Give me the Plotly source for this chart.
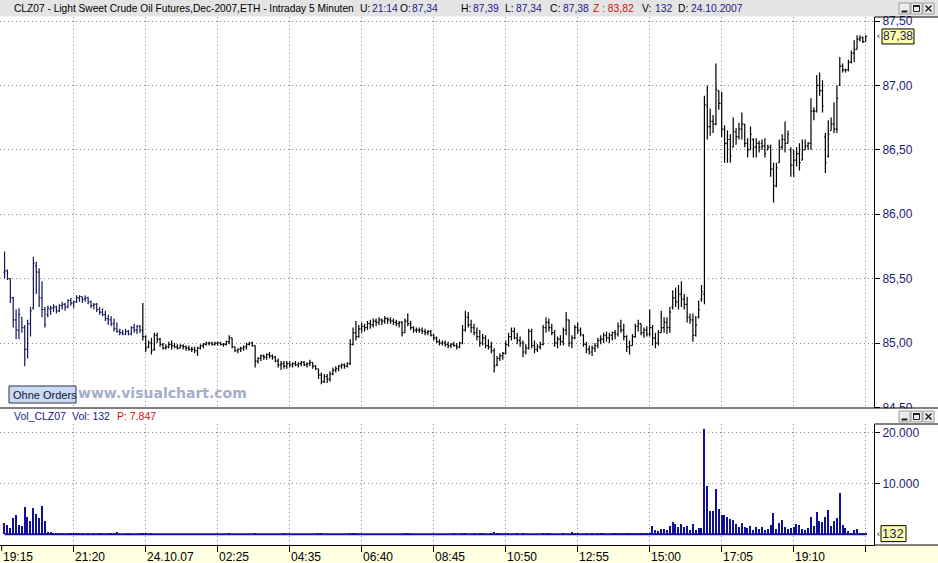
import plotly.graph_objects as go

# ---------------- data (5-minute bars, CLZ07) ----------------
OPEN = [
    85.55, 85.56, 85.50, 85.35, 85.18, 85.10, 85.20, 85.12, 84.95, 85.15,
    85.27, 85.60, 85.55, 85.35, 85.26, 85.22, 85.26, 85.27, 85.28, 85.25,
    85.29, 85.30, 85.28, 85.33, 85.31, 85.32, 85.35, 85.36, 85.34, 85.35,
    85.32, 85.29, 85.30, 85.26, 85.24, 85.22, 85.19, 85.18, 85.15, 85.11,
    85.09, 85.08, 85.07, 85.09, 85.07, 85.12, 85.10, 85.13, 85.10, 85.05,
    84.97, 85.00, 84.95, 85.06, 85.03, 84.99, 84.96, 84.97, 84.99, 84.98,
    84.97, 84.96, 84.98, 84.97, 84.96, 84.95, 84.95, 84.94, 84.96, 84.98,
    84.99, 85.00, 85.00, 84.99, 85.00, 85.00, 84.99, 84.99, 85.01, 85.04,
    84.97, 84.94, 84.95, 84.96, 84.97, 84.99, 85.00, 84.98, 84.86, 84.88,
    84.90, 84.89, 84.91, 84.90, 84.89, 84.86, 84.83, 84.84, 84.82, 84.84,
    84.83, 84.84, 84.83, 84.84, 84.85, 84.83, 84.84, 84.85, 84.82, 84.80,
    84.75, 84.70, 84.74, 84.72, 84.76, 84.79, 84.80, 84.82, 84.83, 84.82,
    84.84, 84.99, 85.08, 85.05, 85.11, 85.13, 85.12, 85.15, 85.14, 85.17,
    85.16, 85.18, 85.17, 85.19, 85.18, 85.17, 85.16, 85.15, 85.16, 85.08,
    85.17, 85.15, 85.12, 85.10, 85.10, 85.10, 85.09, 85.08, 85.09, 85.06,
    85.04, 85.01, 85.00, 85.00, 84.99, 84.98, 84.99, 84.98, 84.97, 85.00,
    85.10, 85.20, 85.14, 85.12, 85.08, 85.05, 85.00, 85.04, 84.98, 84.97,
    84.94, 84.83, 84.88, 84.90, 84.92, 84.99, 85.05, 85.09, 85.04, 85.02,
    85.00, 84.93, 84.96, 85.09, 84.98, 84.95, 84.97, 84.99, 85.12, 85.16,
    85.12, 85.08, 85.00, 85.03, 85.01, 85.10, 85.18, 85.00, 85.04, 85.12,
    85.10, 85.06, 84.99, 84.95, 84.93, 84.96, 84.98, 85.02, 85.03, 85.06,
    85.04, 85.06, 85.08, 85.07, 85.13, 85.10, 85.05, 84.97, 84.98, 85.05,
    85.13, 85.15, 85.08, 85.10, 85.07, 85.12, 85.04, 85.00, 85.08, 85.12,
    85.16, 85.12, 85.28, 85.35, 85.32, 85.38, 85.34, 85.30, 85.20, 85.18,
    85.06, 85.20, 85.34, 85.38, 86.84, 86.68, 86.72, 86.70, 86.96, 86.86,
    86.66, 86.55, 86.58, 86.52, 86.64, 86.60, 86.66, 86.70, 86.55, 86.50,
    86.58, 86.52, 86.55, 86.55, 86.53, 86.50, 86.52, 86.35, 86.22, 86.40,
    86.52, 86.58, 86.55, 86.50, 86.38, 86.42, 86.47, 86.42, 86.50, 86.53,
    86.55, 86.80, 86.80, 87.00, 86.96, 86.60, 86.45, 86.65, 86.70, 86.66,
    87.00, 87.15, 87.12, 87.12, 87.18, 87.25, 87.28, 87.36, 87.37, 87.34,
]
HIGH = [
    85.71, 85.57, 85.50, 85.36, 85.26, 85.27, 85.20, 85.14, 85.18, 85.28,
    85.67, 85.63, 85.58, 85.48, 85.28, 85.29, 85.29, 85.30, 85.29, 85.30,
    85.32, 85.31, 85.34, 85.35, 85.33, 85.37, 85.37, 85.36, 85.37, 85.36,
    85.33, 85.31, 85.31, 85.28, 85.27, 85.25, 85.22, 85.21, 85.19, 85.16,
    85.11, 85.10, 85.11, 85.10, 85.13, 85.15, 85.14, 85.14, 85.31, 85.06,
    85.02, 85.04, 85.08, 85.08, 85.04, 85.00, 84.99, 85.01, 85.02, 85.00,
    84.99, 84.99, 84.99, 84.98, 84.98, 84.97, 84.97, 84.97, 84.99, 85.00,
    85.01, 85.01, 85.01, 85.01, 85.01, 85.01, 85.00, 85.02, 85.06, 85.04,
    84.97, 84.96, 84.97, 84.98, 85.00, 85.01, 85.01, 84.98, 84.89, 84.91,
    84.91, 84.92, 84.93, 84.91, 84.90, 84.88, 84.86, 84.86, 84.86, 84.86,
    84.85, 84.86, 84.85, 84.86, 84.86, 84.85, 84.87, 84.85, 84.83, 84.80,
    84.77, 84.76, 84.76, 84.78, 84.81, 84.82, 84.83, 84.84, 84.84, 84.85,
    85.03, 85.12, 85.17, 85.14, 85.16, 85.15, 85.17, 85.18, 85.19, 85.19,
    85.20, 85.19, 85.21, 85.20, 85.20, 85.19, 85.18, 85.17, 85.17, 85.19,
    85.23, 85.17, 85.13, 85.12, 85.12, 85.12, 85.11, 85.10, 85.10, 85.07,
    85.05, 85.03, 85.02, 85.02, 85.01, 85.00, 85.01, 85.00, 85.01, 85.14,
    85.25, 85.24, 85.18, 85.15, 85.12, 85.10, 85.07, 85.06, 85.03, 85.01,
    84.96, 84.90, 84.92, 84.93, 85.02, 85.08, 85.12, 85.12, 85.08, 85.05,
    85.02, 84.99, 85.11, 85.11, 85.02, 84.99, 85.01, 85.14, 85.20, 85.19,
    85.15, 85.10, 85.05, 85.06, 85.12, 85.24, 85.18, 85.06, 85.14, 85.16,
    85.12, 85.07, 85.01, 84.98, 84.98, 85.00, 85.04, 85.06, 85.08, 85.09,
    85.08, 85.09, 85.10, 85.16, 85.18, 85.15, 85.06, 85.02, 85.07, 85.15,
    85.18, 85.15, 85.12, 85.13, 85.26, 85.14, 85.08, 85.10, 85.25, 85.20,
    85.20, 85.28, 85.41, 85.43, 85.45, 85.48, 85.38, 85.36, 85.23, 85.23,
    85.21, 85.33, 85.45, 86.92, 87.00, 86.82, 86.77, 87.17, 86.96, 86.95,
    86.69, 86.65, 86.62, 86.75, 86.67, 86.71, 86.79, 86.70, 86.59, 86.68,
    86.59, 86.59, 86.57, 86.58, 86.59, 86.54, 86.54, 86.40, 86.40, 86.58,
    86.62, 86.72, 86.65, 86.52, 86.50, 86.52, 86.55, 86.58, 86.58, 86.56,
    86.90, 86.83, 87.08, 87.10, 87.04, 86.63, 86.73, 86.75, 86.87, 87.00,
    87.22, 87.17, 87.13, 87.20, 87.27, 87.35, 87.39, 87.39, 87.38, 87.39,
]
LOW = [
    85.50, 85.49, 85.31, 85.12, 85.03, 85.03, 85.08, 84.82, 84.88, 85.05,
    85.26, 85.38, 85.28, 85.20, 85.12, 85.20, 85.22, 85.24, 85.23, 85.24,
    85.26, 85.25, 85.27, 85.29, 85.27, 85.31, 85.32, 85.31, 85.32, 85.30,
    85.27, 85.26, 85.24, 85.22, 85.21, 85.17, 85.14, 85.13, 85.09, 85.08,
    85.06, 85.06, 85.06, 85.06, 85.06, 85.08, 85.07, 85.08, 85.02, 84.93,
    84.96, 84.91, 84.94, 85.00, 84.97, 84.95, 84.95, 84.96, 84.95, 84.96,
    84.95, 84.96, 84.95, 84.94, 84.94, 84.93, 84.92, 84.90, 84.95, 84.96,
    84.98, 84.98, 84.98, 84.98, 84.98, 84.98, 84.97, 84.98, 84.99, 84.96,
    84.93, 84.92, 84.93, 84.94, 84.95, 84.98, 84.97, 84.81, 84.84, 84.86,
    84.87, 84.87, 84.88, 84.87, 84.85, 84.81, 84.79, 84.80, 84.80, 84.81,
    84.81, 84.82, 84.81, 84.82, 84.82, 84.81, 84.82, 84.80, 84.79, 84.72,
    84.68, 84.69, 84.69, 84.70, 84.75, 84.77, 84.78, 84.80, 84.80, 84.81,
    84.83, 84.98, 85.02, 85.04, 85.08, 85.09, 85.10, 85.11, 85.12, 85.13,
    85.14, 85.14, 85.15, 85.15, 85.15, 85.14, 85.13, 85.12, 85.05, 85.08,
    85.13, 85.10, 85.08, 85.08, 85.08, 85.07, 85.06, 85.06, 85.05, 85.02,
    85.00, 84.98, 84.98, 84.97, 84.96, 84.96, 84.97, 84.95, 84.96, 84.99,
    85.09, 85.12, 85.08, 85.06, 85.02, 84.97, 84.98, 84.96, 84.95, 84.92,
    84.77, 84.82, 84.86, 84.87, 84.91, 84.97, 85.02, 85.03, 84.99, 84.97,
    84.89, 84.91, 84.95, 84.96, 84.92, 84.93, 84.95, 84.98, 85.08, 85.09,
    85.06, 84.97, 84.96, 84.98, 84.98, 85.06, 84.97, 84.96, 85.03, 85.07,
    85.05, 84.97, 84.92, 84.91, 84.90, 84.93, 84.96, 84.99, 85.00, 85.01,
    85.00, 85.02, 85.03, 85.05, 85.08, 85.02, 84.93, 84.91, 84.98, 85.04,
    85.09, 85.06, 85.04, 85.05, 85.05, 84.98, 84.96, 84.98, 85.08, 85.08,
    85.07, 85.08, 85.26, 85.28, 85.26, 85.28, 85.26, 85.16, 85.15, 85.01,
    85.05, 85.19, 85.32, 85.30, 86.58, 86.61, 86.63, 86.69, 86.81, 86.60,
    86.40, 86.40, 86.40, 86.52, 86.54, 86.58, 86.58, 86.52, 86.44, 86.50,
    86.44, 86.44, 86.48, 86.50, 86.44, 86.50, 86.29, 86.09, 86.21, 86.40,
    86.50, 86.48, 86.55, 86.29, 86.29, 86.37, 86.34, 86.42, 86.50, 86.50,
    86.50, 86.73, 86.79, 86.92, 86.79, 86.32, 86.44, 86.65, 86.63, 86.63,
    87.00, 87.10, 87.10, 87.11, 87.17, 87.18, 87.28, 87.34, 87.33, 87.34,
]
CLOSE = [
    85.56, 85.50, 85.35, 85.18, 85.10, 85.22, 85.12, 84.95, 85.15, 85.25,
    85.62, 85.55, 85.35, 85.26, 85.14, 85.27, 85.27, 85.28, 85.25, 85.29,
    85.30, 85.28, 85.33, 85.31, 85.32, 85.35, 85.36, 85.34, 85.35, 85.32,
    85.29, 85.30, 85.26, 85.24, 85.22, 85.19, 85.18, 85.15, 85.11, 85.09,
    85.08, 85.07, 85.09, 85.07, 85.12, 85.10, 85.13, 85.10, 85.05, 84.96,
    85.00, 84.94, 85.06, 85.03, 84.99, 84.96, 84.97, 84.99, 84.98, 84.97,
    84.96, 84.98, 84.97, 84.96, 84.95, 84.95, 84.94, 84.96, 84.98, 84.99,
    85.00, 85.00, 84.99, 85.00, 85.00, 84.99, 84.99, 85.01, 85.04, 84.97,
    84.94, 84.95, 84.96, 84.97, 84.99, 85.00, 84.98, 84.86, 84.88, 84.90,
    84.89, 84.91, 84.90, 84.89, 84.86, 84.83, 84.84, 84.82, 84.84, 84.83,
    84.84, 84.83, 84.84, 84.85, 84.83, 84.84, 84.85, 84.82, 84.80, 84.75,
    84.70, 84.74, 84.72, 84.76, 84.79, 84.80, 84.82, 84.83, 84.82, 84.84,
    84.99, 85.08, 85.05, 85.11, 85.13, 85.12, 85.15, 85.14, 85.17, 85.16,
    85.18, 85.17, 85.19, 85.18, 85.17, 85.16, 85.15, 85.16, 85.08, 85.17,
    85.15, 85.12, 85.10, 85.10, 85.10, 85.09, 85.08, 85.09, 85.06, 85.04,
    85.01, 85.00, 85.00, 84.99, 84.98, 84.99, 84.98, 84.97, 85.00, 85.10,
    85.20, 85.14, 85.12, 85.08, 85.05, 85.00, 85.04, 84.98, 84.97, 84.94,
    84.82, 84.88, 84.90, 84.92, 84.99, 85.05, 85.09, 85.04, 85.02, 85.00,
    84.93, 84.96, 85.09, 84.98, 84.95, 84.97, 84.99, 85.12, 85.16, 85.12,
    85.08, 85.00, 85.03, 85.01, 85.10, 85.18, 85.00, 85.04, 85.12, 85.10,
    85.07, 84.99, 84.95, 84.93, 84.96, 84.98, 85.02, 85.03, 85.06, 85.04,
    85.06, 85.08, 85.07, 85.13, 85.10, 85.05, 84.97, 84.98, 85.05, 85.13,
    85.15, 85.08, 85.10, 85.07, 85.12, 85.04, 85.00, 85.08, 85.12, 85.16,
    85.12, 85.24, 85.35, 85.32, 85.38, 85.34, 85.30, 85.20, 85.18, 85.06,
    85.14, 85.26, 85.40, 86.85, 86.68, 86.72, 86.70, 86.97, 86.86, 86.66,
    86.55, 86.58, 86.45, 86.64, 86.60, 86.66, 86.70, 86.55, 86.50, 86.62,
    86.52, 86.55, 86.52, 86.53, 86.47, 86.52, 86.35, 86.22, 86.36, 86.52,
    86.58, 86.55, 86.62, 86.38, 86.42, 86.47, 86.40, 86.50, 86.53, 86.55,
    86.80, 86.80, 87.00, 86.96, 86.84, 86.40, 86.62, 86.70, 86.66, 86.90,
    87.15, 87.12, 87.12, 87.18, 87.25, 87.28, 87.36, 87.37, 87.34, 87.38,
]
VOLUME = [
    2290, 1760, 1240, 3140, 3860, 1900, 1570, 5290, 3330, 2550,
    5100, 4050, 3140, 5620, 2550, 390, 400, 220, 200, 210,
    60, 50, 230, 250, 80, 200, 60, 180, 40, 190,
    50, 60, 40, 210, 60, 50, 210, 70, 80, 410,
    40, 30, 50, 60, 40, 30, 50, 60, 70, 300,
    40, 60, 30, 50, 40, 30, 20, 40, 30, 50,
    30, 20, 40, 30, 20, 30, 50, 20, 30, 40,
    20, 30, 20, 40, 30, 20, 30, 40, 60, 30,
    20, 30, 20, 40, 30, 20, 30, 210, 40, 30,
    20, 30, 40, 20, 30, 40, 30, 200, 40, 30,
    20, 30, 40, 30, 20, 30, 40, 30, 50, 60,
    250, 40, 30, 50, 40, 30, 40, 30, 20, 40,
    180, 250, 60, 50, 40, 30, 50, 40, 30, 40,
    30, 40, 30, 20, 40, 30, 40, 30, 50, 60,
    80, 50, 40, 30, 40, 30, 20, 40, 30, 40,
    30, 40, 30, 20, 30, 40, 230, 30, 40, 60,
    220, 50, 40, 60, 40, 250, 60, 40, 50, 60,
    420, 200, 60, 40, 50, 60, 40, 50, 220, 40,
    60, 40, 50, 40, 30, 40, 50, 260, 200, 220,
    40, 50, 40, 30, 60, 40, 50, 380, 250, 60,
    40, 30, 260, 40, 230, 40, 200, 60, 210, 40,
    50, 220, 230, 250, 200, 240, 300, 250, 280, 350,
    260, 320, 240, 300, 350, 1630, 850, 650, 1040, 1040,
    850, 1630, 2420, 2030, 1440, 2030, 1440, 1630, 850, 2030,
    850, 1240, 1240, 20650, 9480, 4580, 4580, 8890, 4970, 3790,
    3790, 3400, 3010, 2810, 2030, 1440, 2220, 1440, 1240, 1630,
    850, 1440, 1040, 1440, 850, 1040, 1830, 4180, 1040, 2220,
    2810, 1440, 1040, 1240, 1440, 2030, 1830, 1040, 850, 1240,
    3400, 1630, 4390, 2620, 2420, 3400, 4780, 1630, 2620, 3200,
    8100, 1830, 1240, 650, 260, 850, 1040, 260, 260, 132,
]
TICK_POS = [0, 25, 50, 75, 100, 125, 150, 175, 200, 225, 250, 275, 300]
TICK_LABELS = ["19:15", "21:20", "24.10.07", "02:25", "04:35", "06:40", "08:45",
               "10:50", "12:55", "15:00", "17:05", "19:10", ""]
PRICE_TICKS = [84.5, 85.0, 85.5, 86.0, 86.5, 87.0, 87.5]
VOL_TICKS = [10000, 20000]
FIRST_DAY_BARS = 48  # bars belonging to 23.10.2007

X = list(range(1, len(CLOSE) + 1))

# ---------------- geometry helpers ----------------
W, H = 938, 563
MR, MT, MB = 64, 17, 18
PW = W - MR
PH = H - MT - MB


def px(x):
    return x / PW


def py(y):
    return (H - MB - y) / PH


def price_at(y):
    return 87.5 - (y - 21) / 128.8


def vol_at(y):
    return (534.3 - y) / 51.0 * 10000


def idx_at(x):
    return (x - 1.7) / 2.88


FONT = "Liberation Sans, Arial, sans-serif"
NAVY = "#1c1c70"
VALC = "#20208a"
RED = "#d01010"
GRID = "#8c8c8c"
VOLC = "#10109c"
DASH = "1px,3px"

fig = go.Figure()

for sl, col in ((slice(0, FIRST_DAY_BARS), "#16165a"), (slice(FIRST_DAY_BARS, None), "#000000")):
    fig.add_trace(go.Ohlc(
        x=X[sl], open=OPEN[sl], high=HIGH[sl], low=LOW[sl], close=CLOSE[sl],
        xaxis="x2", yaxis="y2", tickwidth=0.42,
        increasing=dict(line=dict(color=col, width=1.2)),
        decreasing=dict(line=dict(color=col, width=1.2)),
        hoverinfo="skip", showlegend=False))

fig.add_trace(go.Scatter(x=[X[0], X[-1]], y=[0, 0], mode="lines",
                         line=dict(color=VOLC, width=2), xaxis="x", yaxis="y",
                         hoverinfo="skip", showlegend=False))
fig.add_trace(go.Bar(x=X, y=VOLUME, width=0.45, marker=dict(color=VOLC, line=dict(width=0)),
                     xaxis="x", yaxis="y", hoverinfo="skip", showlegend=False))

XR = [idx_at(0), idx_at(PW)]
common_x = dict(range=XR, tickvals=TICK_POS[1:], showticklabels=False, showgrid=True,
                gridcolor=GRID, griddash=DASH, gridwidth=1, zeroline=False,
                rangeslider=dict(visible=False), fixedrange=True, automargin=False)
yfont = dict(family=FONT, size=12, color=NAVY)

fig.update_layout(
    width=W, height=H, margin=dict(l=0, r=MR, t=MT, b=MB, pad=0, autoexpand=False),
    paper_bgcolor="white", plot_bgcolor="white", separators=",.", showlegend=False,
    bargap=0,
    xaxis=dict(domain=[0, 1], anchor="y", ticks="outside", ticklen=6, tickcolor="black",
               tickwidth=1, showline=True, linecolor="black", linewidth=1, **common_x),
    xaxis2=dict(domain=[0, 1], anchor="y2", matches="x", ticks="", showline=False, **common_x),
    yaxis=dict(domain=[0, py(424)], anchor="x", side="right",
               range=[vol_at(545), vol_at(424)], tickvals=VOL_TICKS, tickformat=",d",
               ticks="outside", ticklen=5, tickcolor="black", tickfont=yfont,
               showgrid=True, gridcolor=GRID, griddash=DASH, zeroline=False,
               showline=True, linecolor="black", linewidth=1, fixedrange=True, automargin=False),
    yaxis2=dict(domain=[py(408), 1], anchor="x2", side="right",
                range=[price_at(408), price_at(17)], tickvals=PRICE_TICKS, tickformat=".2f",
                ticks="outside", ticklen=5, tickcolor="black", tickfont=yfont,
                showgrid=True, gridcolor=GRID, griddash=DASH, zeroline=False,
                showline=True, linecolor="black", linewidth=1, fixedrange=True, automargin=False),
)

shapes = []


def prect(x0, y0, x1, y1, fill, line_color=None, lw=0, layer="above"):
    shapes.append(dict(type="rect", xref="paper", yref="paper", x0=px(x0), x1=px(x1),
                       y0=py(y1), y1=py(y0), fillcolor=fill, layer=layer,
                       line=dict(color=line_color or fill, width=lw)))


def pline(x0, y0, x1, y1, color="black", lw=1):
    shapes.append(dict(type="line", xref="paper", yref="paper", x0=px(x0), x1=px(x1),
                       y0=py(y0), y1=py(y1), layer="above", line=dict(color=color, width=lw)))


# header bar and bottom time strip
prect(0, 0, W, 16.5, "#e4e4e4", layer="below")
prect(0, 545, W, H, "#ffffe1", layer="below")
# clip area under price axis (hides lower half of last price label)
prect(875, 408.5, W, 423.5, "white")
# panel frames
pline(0, 408, W, 408)
pline(874.5, 17, W, 17)
pline(874.5, 424, W, 424)
pline(874, 545, W, 545)
# first time tick (19:15)
shapes.append(dict(type="line", xref="x", yref="paper", x0=TICK_POS[0], x1=TICK_POS[0],
                   y0=py(545), y1=py(551), line=dict(color="black", width=1)))
# last value boxes
shapes.append(dict(type="rect", xref="paper", yref="y2", x0=px(882), x1=px(914),
                   y0=CLOSE[-1] - 7.5 / 128.8, y1=CLOSE[-1] + 7.5 / 128.8,
                   fillcolor="#ffffa8", line=dict(color="black", width=1), layer="above"))
shapes.append(dict(type="rect", xref="paper", yref="y", x0=px(881), x1=px(906),
                   y0=VOLUME[-1] - 8 * 196, y1=VOLUME[-1] + 8 * 196,
                   fillcolor="#ffffa8", line=dict(color="black", width=1), layer="above"))
# "Ohne Orders" button
prect(9, 386, 76, 403, "#c9dcf2", "#303050", 1)

# window buttons (two rows)
for top in (3, 411):
    for bx in (899, 911, 923):
        prect(bx, top, bx + 11, top + 11, "#ececec", "#9a9a9a", 1)
    pline(901.5, top + 8.5, 907.5, top + 8.5, "#202020", 2)
    prect(913.5, top + 2.5, 919.5, top + 8.5, "rgba(0,0,0,0)", "#202020", 1)
    pline(913.5, top + 3, 919.5, top + 3, "#202020", 2)
    pline(925.5, top + 2.5, 931.5, top + 8.5, "#202020", 1.5)
    pline(925.5, top + 8.5, 931.5, top + 2.5, "#202020", 1.5)

annotations = []


def ptext(x, y, text, color="black", size=11, anchor="left", family=FONT):
    annotations.append(dict(xref="paper", yref="paper", x=px(x), y=py(y), text=text,
                            showarrow=False, xanchor=anchor, yanchor="middle",
                            font=dict(family=family, size=size, color=color)))


def fmt(v):
    return f"{v:.2f}".replace(".", ",")


hy = 8.5
ptext(12, hy, "CLZ07 - Light Sweet Crude Oil Futures,Dec-2007,ETH - Intraday 5 Minuten", size=10.2)
header = [(358, "U:", "black"), (370, "21:14", VALC),
          (398, "O:", "black"), (410, fmt(OPEN[-1]), VALC),
          (459, "H:", "black"), (471, fmt(HIGH[-1]), VALC),
          (503, "L:", "black"), (514, fmt(LOW[-1]), VALC),
          (548, "C:", "black"), (561, fmt(CLOSE[-1]), VALC),
          (591, "Z : 83,82", RED),
          (640, "V:", "black"), (653, str(VOLUME[-1]), VALC),
          (676, "D:", "black"), (689, "24.10.2007", VALC)]
for x, t, c in header:
    ptext(x, hy, t, c, size=10.3)

ptext(12, 415.5, "Vol_CLZ07", VALC, size=10.5)
ptext(70, 415.5, f"Vol: {VOLUME[-1]}", VALC, size=10.5)
ptext(115, 415.5, "P: 7.847", RED, size=10.5)

ptext(76, 392.5, "<b>www.visualchart.com</b>", "#a6adca", size=14, family="DejaVu Sans, Verdana, sans-serif")
ptext(11, 394.5, "Ohne Orders", "#101040", size=11)

# last value labels
annotations.append(dict(xref="paper", yref="y2", x=px(898), y=CLOSE[-1], text=fmt(CLOSE[-1]),
                        showarrow=False, xanchor="center", yanchor="middle",
                        font=dict(family=FONT, size=12, color=NAVY)))
annotations.append(dict(xref="paper", yref="y", x=px(893.5), y=VOLUME[-1], text=str(VOLUME[-1]),
                        showarrow=False, xanchor="center", yanchor="middle",
                        font=dict(family=FONT, size=13, color=NAVY)))
for yref, yv in (("y2", CLOSE[-1]), ("y", VOLUME[-1])):
    annotations.append(dict(xref="paper", yref=yref, x=px(878), y=yv, text="‹",
                            showarrow=False, xanchor="center", yanchor="middle",
                            font=dict(family=FONT, size=9, color="black")))

# time axis labels (left-aligned at their tick)
for pos, lab in zip(TICK_POS, TICK_LABELS):
    if lab:
        annotations.append(dict(xref="x", yref="paper", x=pos, y=py(556.5), text=lab,
                                showarrow=False, xanchor="left", yanchor="middle", xshift=-1,
                                font=dict(family=FONT, size=12, color="black")))

fig.update_layout(shapes=shapes, annotations=annotations)
fig.write_html(
    "out.html",
    config={"displayModeBar": False},
    post_script="document.body.style.margin='0';document.body.style.padding='0';"
                "document.body.style.overflow='hidden';",
)
